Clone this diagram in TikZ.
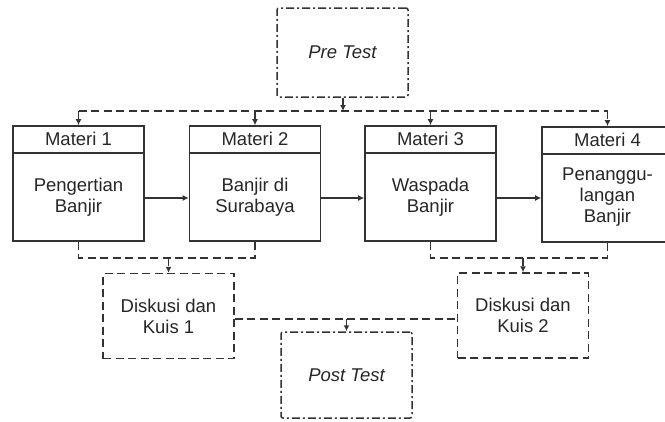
\documentclass[tikz,border=0pt]{standalone}
\usepackage{fontspec}
\setmainfont{Liberation Sans}
\usetikzlibrary{arrows.meta}
\definecolor{ln}{HTML}{333333}
\definecolor{tx}{HTML}{262626}
\tikzset{
  every node/.style={font=\fontsize{18.5}{21}\selectfont, text=tx},
  matbox/.style={draw=ln, line width=1.6pt, minimum width=131pt, minimum height=115pt, inner sep=0pt},
  diskbox/.style={draw=ln, line width=1.5pt, dash pattern=on 8pt off 4.5pt, minimum width=131pt, minimum height=85pt, align=center, inner sep=0pt},
  testbox/.style={draw=ln, line width=1.5pt, dash pattern=on 8pt off 3pt on 2pt off 3pt, rounded corners=2pt, minimum width=131pt, align=center, inner sep=0pt, font=\fontsize{18.5}{21}\selectfont\itshape},
  dline/.style={draw=ln, line width=1.5pt, dash pattern=on 8pt off 4.5pt},
  sline/.style={draw=ln, line width=1.5pt},
  arr/.style={-{Latex[length=6pt,width=6pt]}},
  bodytext/.style={align=center, inner sep=0pt},
}
\begin{document}
\begin{tikzpicture}[x=1pt,y=-1pt]
\useasboundingbox (0,0) rectangle (665,421);
% test boxes
\node[testbox, minimum height=89pt] (pre) at (342.5,52.5) {Pre Test};
\node[testbox, minimum height=86pt] (post) at (346.5,375) {Post Test};
% materi boxes
\node[matbox] (m1) at (78.5,183.5) {};
\node[matbox] (m2) at (255,183.5) {};
\node[matbox] (m3) at (430.5,183.5) {};
\node[matbox] (m4) at (607.5,184.5) {};
\foreach \m/\n in {m1/1,m2/2,m3/3,m4/4}{
  \draw[sline] (\m.north west) ++(0,28) -- ([yshift=-28pt]\m.north east);
  \node[inner sep=0pt] (h\n) at ([yshift=-14pt]\m.north) {Materi \n};
}
\node[bodytext] (t1) at ([yshift=-14pt]m1.center) {Pengertian\\Banjir};
\node[bodytext] (t2) at ([yshift=-14pt]m2.center) {Banjir di\\Surabaya};
\node[bodytext] (t3) at ([yshift=-14pt]m3.center) {Waspada\\Banjir};
\node[bodytext] (t4) at ([yshift=-13pt]m4.center) {Penanggu-\\langan\\Banjir};
% diskusi boxes
\node[diskbox] (d1) at (168.5,316) {Diskusi dan\\Kuis 1};
\node[diskbox] (d2) at (523,315.5) {Diskusi dan\\Kuis 2};
% connectors between materi
\coordinate (mid) at (0,198);
\draw[sline,arr] (m1.east |- mid) -- (m2.west |- mid);
\draw[sline,arr] (m2.east |- mid) -- (m3.west |- mid);
\draw[sline,arr] (m3.east |- mid) -- (m4.west |- mid);
% top bus
\coordinate (bus) at (343,111);
\draw[dline,arr] (pre.south -| bus) -- (bus);
\draw[dline] (m1.north |- bus) -- (m4.north |- bus);
\foreach \m in {m1,m2,m3,m4}{
  \draw[dline,arr] (\m.north |- bus) -- (\m.north);
}
% bottom brackets
\draw[dline] (m1.south) -- ++(0,16) coordinate (b1l) -| (m2.south);
\draw[dline] (m3.south) -- ++(0,16) coordinate (b2l) -| (m4.south);
\draw[dline,arr] (d1.north |- b1l) -- (d1.north);
\draw[dline,arr] (d2.north |- b2l) -- (d2.north);
% to post test
\coordinate (pbus) at (0,319);
\draw[dline] (d1.east |- pbus) -- (d2.west |- pbus);
\draw[dline,arr] (post.north |- pbus) -- (post.north);
\end{tikzpicture}
\end{document}
